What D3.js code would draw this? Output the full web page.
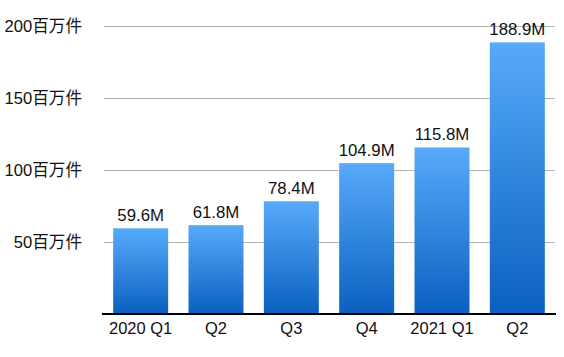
<!DOCTYPE html>
<html><head><meta charset="utf-8">
<script src="https://cdn.jsdelivr.net/npm/d3@7"></script>
<style>
html,body{margin:0;padding:0;background:#fff;}
text{font-family:"Liberation Sans","Noto Sans CJK JP",Arial,sans-serif;fill:#111;}
</style></head>
<body><svg id="c" width="564" height="357"></svg>
<script>
const categories = ["2020 Q1","Q2","Q3","Q4","2021 Q1","Q2"];
const values = [59.6, 61.8, 78.4, 104.9, 115.8, 188.9];
const valueLabels = ["59.6M","61.8M","78.4M","104.9M","115.8M","188.9M"];
const yTicks = [50, 100, 150, 200];
const yTickLabels = ["50百万件","100百万件","150百万件","200百万件"];

const svg = d3.select("#c");
const x = d3.scaleBand().domain(d3.range(categories.length)).range([103, 555]).paddingInner(0.27).paddingOuter(0.135);
const y = d3.scaleLinear().domain([0, 200]).range([314, 26.4]);

const defs = svg.append("defs");
const g = defs.append("linearGradient").attr("id","bg").attr("x1",0).attr("y1",0).attr("x2",0).attr("y2",1);
g.append("stop").attr("offset","0%").attr("stop-color","#57aafa");
g.append("stop").attr("offset","100%").attr("stop-color","#0a60c0");

// gridlines
svg.append("g").selectAll("line").data(yTicks).join("line")
  .attr("x1",104).attr("x2",555)
  .attr("y1",d=>Math.round(y(d))+0.5).attr("y2",d=>Math.round(y(d))+0.5)
  .attr("stroke","#b4b4b4").attr("stroke-width",1);

// y labels
svg.append("g").selectAll("text").data(yTicks).join("text")
  .attr("x",82).attr("y",d=>y(d)).attr("dy","0.36em")
  .attr("text-anchor","end").style("font-size","16.6px")
  .text((d,i)=>yTickLabels[i]);

// bars
svg.append("g").selectAll("rect").data(values).join("rect")
  .attr("x",(d,i)=>x(i)).attr("width",x.bandwidth())
  .attr("y",d=>y(d)).attr("height",d=>y(0)-y(d))
  .attr("fill","url(#bg)");

// value labels
svg.append("g").selectAll("text").data(values).join("text")
  .attr("x",(d,i)=>x(i)+x.bandwidth()/2).attr("y",d=>y(d)-7.5)
  .attr("text-anchor","middle").style("font-size","16.8px")
  .text((d,i)=>valueLabels[i]);

// baseline
svg.append("line").attr("x1",102).attr("x2",556).attr("y1",y(0)).attr("y2",y(0))
  .attr("stroke","#000").attr("stroke-width",2);

// x labels
svg.append("g").selectAll("text").data(categories).join("text")
  .attr("x",(d,i)=>x(i)+x.bandwidth()/2).attr("y",334.3)
  .attr("text-anchor","middle").style("font-size","16.5px")
  .text(d=>d);
</script></body></html>
